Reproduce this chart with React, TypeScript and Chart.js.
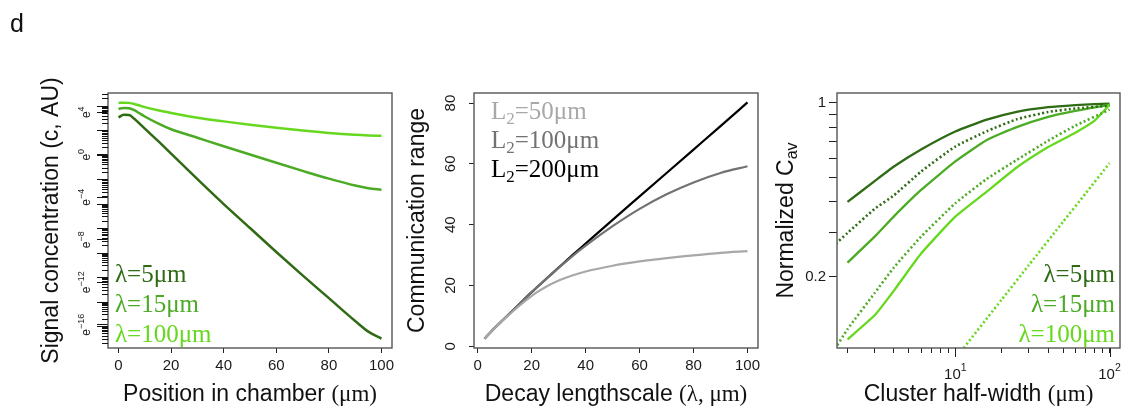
import React, { useEffect, useRef } from 'react';
import { Chart, registerables } from 'chart.js';
Chart.register(...registerables);

const W = 1126;
const H = 412;
const SANS = '"Liberation Sans", Arial, sans-serif';
const SERIF = '"Liberation Serif", "Times New Roman", serif';
const DARK = '#2f6a14';
const MID = '#4cab24';
const BRIGHT = '#66d81e';
const INK = '#1a1a1a';

// ---------- Panel 1: signal concentration (ln c) vs position ----------
const chamberX = [0, 2, 4, 6, 8, 10, 15, 20, 30, 40, 50, 60, 70, 80, 90, 95, 100];
const lnC_lambda5 = [3.51, 3.76, 3.74, 3.38, 2.92, 2.45, 1.3, 0.1, -2.3, -4.65, -6.9, -9.15, -11.35, -13.5, -15.65, -16.65, -17.3];
const lnC_lambda15 = [4.33, 4.4, 4.37, 4.2, 3.9, 3.6, 2.95, 2.4, 1.6, 0.8, 0.02, -0.76, -1.52, -2.25, -2.9, -3.15, -3.3];
const lnC_lambda100 = [4.87, 4.9, 4.88, 4.78, 4.63, 4.48, 4.18, 3.93, 3.48, 3.14, 2.82, 2.53, 2.27, 2.05, 1.88, 1.82, 1.78];
const p1XTicks = [0, 20, 40, 60, 80, 100];
const p1YLabelTicks = [-16, -12, -8, -4, 0, 4];
const p1Legend = ['λ=5μm', 'λ=15μm', 'λ=100μm'];

// ---------- Panel 2: communication range vs decay lengthscale ----------
const lambdaX = [2.5, 5, 10, 15, 20, 25, 30, 35, 40, 50, 60, 70, 80, 90, 100];
const range_L50 = [2.5, 4.9, 9.1, 13.0, 16.6, 19.4, 21.6, 23.3, 24.6, 26.5, 27.9, 29.0, 29.9, 30.7, 31.3];
const range_L100 = [2.5, 4.9, 9.2, 13.5, 17.8, 21.9, 25.8, 29.6, 33.1, 39.5, 45.2, 50.0, 53.9, 57.0, 59.2];
const range_L200 = [2.5, 4.9, 9.2, 13.5, 17.8, 21.9, 25.9, 29.9, 33.8, 41.6, 49.3, 57.0, 64.7, 72.4, 80.2];
const p2XTicks = [0, 20, 40, 60, 80, 100];
const p2YTicks = [0, 20, 40, 60, 80];
const p2LegendValues = ['50', '100', '200'];

// ---------- Panel 3: normalized C_av vs cluster half-width (log-log) ----------
const halfWidthSolid = [2, 3, 4, 6, 10, 16, 25, 40, 60, 80, 100];
const cav_l5_solid = [0.4, 0.485, 0.555, 0.65, 0.768, 0.857, 0.922, 0.962, 0.981, 0.99, 0.995];
const cav_l15_solid = [0.228, 0.29, 0.35, 0.447, 0.582, 0.71, 0.8, 0.88, 0.93, 0.96, 0.985];
const cav_l100_solid = [0.112, 0.14, 0.176, 0.248, 0.349, 0.44, 0.55, 0.665, 0.76, 0.85, 0.985];
const halfWidthDotted = [1.6, 2, 3, 4, 6, 10, 16, 25, 40, 60, 100];
const cav_l5_dotted = [0.264, 0.3, 0.375, 0.425, 0.53, 0.668, 0.77, 0.86, 0.92, 0.95, 0.975];
const cav_l15_dotted = [0.099, 0.123, 0.172, 0.218, 0.29, 0.395, 0.495, 0.59, 0.705, 0.81, 0.94];
const halfWidthDottedL100 = [10, 11.4, 20, 30, 50, 70, 100];
const cav_l100_dotted = [0.094, 0.104, 0.162, 0.223, 0.333, 0.433, 0.573];
const p3XTicks = [2, 3, 4, 5, 6, 7, 8, 9, 10, 20, 30, 40, 50, 60, 70, 80, 90, 100];
const p3XMajor = [10, 100];
const p3YTicks = [0.2, 0.3, 0.4, 0.5, 0.6, 0.7, 0.8, 0.9, 1];
const p3YLabelled = [0.2, 1];

type Seg = { t: string; f: string; dy?: number };
type Box = { l: number; t: number; r: number; b: number };

const sans = (px: number) => `${px}px ${SANS}`;
const serif = (px: number) => `${px}px ${SERIF}`;

function drawRich(
  ctx: CanvasRenderingContext2D,
  segs: Seg[],
  x: number,
  y: number,
  rot: number,
  align: 'left' | 'center' | 'right',
  color: string
) {
  ctx.save();
  ctx.translate(x, y);
  if (rot) ctx.rotate(rot);
  ctx.fillStyle = color;
  ctx.textBaseline = 'alphabetic';
  ctx.textAlign = 'left';
  let w = 0;
  const ws = segs.map((s) => {
    ctx.font = s.f;
    const m = ctx.measureText(s.t).width;
    w += m;
    return m;
  });
  let cx = align === 'left' ? 0 : align === 'center' ? -w / 2 : -w;
  segs.forEach((s, i) => {
    ctx.font = s.f;
    ctx.fillText(s.t, cx, s.dy || 0);
    cx += ws[i];
  });
  ctx.restore();
}

const AX = 40; // fixed scale thickness
function layoutFor(b: Box) {
  return { padding: { left: b.l - AX, top: b.t, right: W - b.r, bottom: H - b.b - AX } };
}
const fitY = (s: any) => {
  s.width = AX;
  s.paddingTop = 0;
  s.paddingBottom = 0;
  s.paddingLeft = 0;
  s.paddingRight = 0;
};
const fitX = (s: any) => {
  s.height = AX;
  s.paddingTop = 0;
  s.paddingBottom = 0;
  s.paddingLeft = 0;
  s.paddingRight = 0;
};
const setTicks = (vals: number[]) => (s: any) => {
  s.ticks = vals.map((v) => ({ value: v }));
};
const tickGrid = (len: number) => ({
  display: true,
  drawOnChartArea: false,
  drawTicks: true,
  tickLength: len,
  color: '#222',
  lineWidth: 1,
});
const tickFont = { family: SANS, size: 15 };

function drawBox(ctx: CanvasRenderingContext2D, a: any) {
  ctx.save();
  ctx.strokeStyle = '#555';
  ctx.lineWidth = 1.4;
  ctx.strokeRect(a.left, a.top, a.right - a.left, a.bottom - a.top);
  ctx.restore();
}

const pts = (xs: number[], ys: number[]) => xs.map((x, i) => ({ x, y: ys[i] }));

const BOX1: Box = { l: 108, t: 93, r: 392, b: 348 };
const BOX2: Box = { l: 474, t: 93, r: 758, b: 348 };
const BOX3: Box = { l: 837, t: 93, r: 1120, b: 348 };
const LEG_BASE = [282, 311.7, 341.5];
const greens = [DARK, MID, BRIGHT];

function config1(): any {
  const line = (ys: number[], color: string) => ({
    data: pts(chamberX, ys),
    borderColor: color,
    borderWidth: 2.5,
    pointRadius: 0,
    fill: false,
    cubicInterpolationMode: 'monotone',
  });
  return {
    type: 'line',
    data: { datasets: [line(lnC_lambda100, BRIGHT), line(lnC_lambda15, MID), line(lnC_lambda5, DARK)] },
    options: {
      animation: false,
      responsive: false,
      devicePixelRatio: 1,
      layout: layoutFor(BOX1),
      plugins: { legend: { display: false }, tooltip: { enabled: false } },
      events: [],
      scales: {
        x: {
          type: 'linear',
          min: -4,
          max: 104,
          afterBuildTicks: setTicks(p1XTicks),
          afterFit: fitX,
          grid: tickGrid(5),
          border: { display: false },
          ticks: { autoSkip: false, maxRotation: 0, minRotation: 0, padding: 4, color: INK, font: tickFont, callback: (v: any) => String(v) },
        },
        y: {
          type: 'linear',
          min: -18.19,
          max: 5.81,
          afterBuildTicks: setTicks(p1YLabelTicks),
          afterFit: fitY,
          grid: { ...tickGrid(11), color: '#111' },
          border: { display: false },
          ticks: { callback: () => '' },
        },
      },
    },
    plugins: [
      {
        id: 'p1deco',
        afterDraw(chart: any) {
          const { ctx, chartArea: a, scales } = chart;
          const ys = scales.y;
          drawBox(ctx, a);
          ctx.save();
          ctx.strokeStyle = '#111';
          ctx.lineWidth = 1;
          for (let k = -9; k <= 3; k++) {
            for (let m = 1; m <= 9; m++) {
              const v = Math.log(m * Math.pow(10, k));
              if (v < ys.min || v > ys.max) continue;
              const py = Math.round(ys.getPixelForValue(v)) + 0.5;
              const len = m === 1 ? 11 : 6;
              ctx.beginPath();
              ctx.moveTo(a.left - len, py);
              ctx.lineTo(a.left, py);
              ctx.stroke();
            }
          }
          ctx.restore();
          p1YLabelTicks.forEach((v) =>
            drawRich(
              ctx,
              [
                { t: 'e', f: sans(12) },
                { t: v < 0 ? '\u2212' + -v : String(v), f: sans(9), dy: -6.5 },
              ],
              a.left - 18,
              ys.getPixelForValue(v),
              -Math.PI / 2,
              'center',
              INK
            )
          );
          drawRich(ctx, [{ t: 'Signal concentration (c, AU)', f: sans(23) }], a.left - 50, (a.top + a.bottom) / 2, -Math.PI / 2, 'center', '#111');
          drawRich(ctx, [{ t: 'Position in chamber ', f: sans(23) }, { t: '(μm)', f: serif(23) }], (a.left + a.right) / 2, 401, 0, 'center', '#111');
          p1Legend.forEach((t, i) => drawRich(ctx, [{ t, f: serif(25) }], a.left + 7, LEG_BASE[i], 0, 'left', greens[i]));
          drawRich(ctx, [{ t: 'd', f: sans(25) }], 10, 32, 0, 'left', '#111');
        },
      },
    ],
  };
}

function config2(): any {
  const grays = ['#a8a8a8', '#727272', '#000000'];
  const line = (ys: number[], color: string) => ({
    data: pts(lambdaX, ys),
    borderColor: color,
    borderWidth: 2.2,
    pointRadius: 0,
    fill: false,
    cubicInterpolationMode: 'monotone',
  });
  return {
    type: 'line',
    data: { datasets: [line(range_L50, grays[0]), line(range_L100, grays[1]), line(range_L200, grays[2])] },
    options: {
      animation: false,
      responsive: false,
      devicePixelRatio: 1,
      layout: layoutFor(BOX2),
      plugins: { legend: { display: false }, tooltip: { enabled: false } },
      events: [],
      scales: {
        x: {
          type: 'linear',
          min: -1.4,
          max: 103.9,
          afterBuildTicks: setTicks(p2XTicks),
          afterFit: fitX,
          grid: tickGrid(5),
          border: { display: false },
          ticks: { autoSkip: false, maxRotation: 0, minRotation: 0, padding: 4, color: INK, font: tickFont, callback: (v: any) => String(v) },
        },
        y: {
          type: 'linear',
          min: -0.56,
          max: 83.3,
          afterBuildTicks: setTicks(p2YTicks),
          afterFit: fitY,
          grid: tickGrid(5),
          border: { display: false },
          ticks: { callback: () => '' },
        },
      },
    },
    plugins: [
      {
        id: 'p2deco',
        afterDraw(chart: any) {
          const { ctx, chartArea: a, scales } = chart;
          drawBox(ctx, a);
          p2YTicks.forEach((v) =>
            drawRich(ctx, [{ t: String(v), f: sans(15) }], a.left - 19, scales.y.getPixelForValue(v), -Math.PI / 2, 'center', INK)
          );
          drawRich(ctx, [{ t: 'Communication range', f: sans(23) }], a.left - 50, (a.top + a.bottom) / 2, -Math.PI / 2, 'center', '#111');
          drawRich(ctx, [{ t: 'Decay lengthscale ', f: sans(23) }, { t: '(λ, μm)', f: serif(23) }], (a.left + a.right) / 2, 401, 0, 'center', '#111');
          const base = [119.3, 148.3, 177.3];
          p2LegendValues.forEach((val, i) =>
            drawRich(
              ctx,
              [
                { t: 'L', f: serif(25) },
                { t: '2', f: serif(17), dy: 5 },
                { t: '=' + val + 'μm', f: serif(25) },
              ],
              a.left + 17,
              base[i],
              0,
              'left',
              grays[i]
            )
          );
        },
      },
    ],
  };
}

function config3(): any {
  const solid = (xs: number[], ys: number[], color: string) => ({
    data: pts(xs, ys),
    borderColor: color,
    borderWidth: 2.3,
    pointRadius: 0,
    fill: false,
    tension: 0.15,
  });
  const dotted = (xs: number[], ys: number[], color: string) => ({
    ...solid(xs, ys, color),
    borderWidth: 2.6,
    borderDash: [2, 2.5],
  });
  return {
    type: 'line',
    data: {
      datasets: [
        dotted(halfWidthDottedL100, cav_l100_dotted, BRIGHT),
        dotted(halfWidthDotted, cav_l15_dotted, MID),
        dotted(halfWidthDotted, cav_l5_dotted, DARK),
        solid(halfWidthSolid, cav_l100_solid, BRIGHT),
        solid(halfWidthSolid, cav_l15_solid, MID),
        solid(halfWidthSolid, cav_l5_solid, DARK),
      ],
    },
    options: {
      animation: false,
      responsive: false,
      devicePixelRatio: 1,
      layout: layoutFor(BOX3),
      plugins: { legend: { display: false }, tooltip: { enabled: false } },
      events: [],
      scales: {
        x: {
          type: 'logarithmic',
          min: 1.71,
          max: 116.9,
          afterBuildTicks: setTicks(p3XTicks),
          afterFit: fitX,
          grid: tickGrid(5),
          border: { display: false },
          ticks: { autoSkip: false, maxRotation: 0, minRotation: 0, callback: () => '' },
        },
        y: {
          type: 'logarithmic',
          min: 0.1034,
          max: 1.097,
          afterBuildTicks: setTicks(p3YTicks),
          afterFit: fitY,
          grid: tickGrid(8),
          border: { display: false },
          ticks: {
            autoSkip: false,
            padding: 3,
            color: INK,
            font: tickFont,
            callback: (v: any) => (p3YLabelled.some((l) => Math.abs(l - v) < 1e-9) ? String(v) : ''),
          },
        },
      },
    },
    plugins: [
      {
        id: 'p3deco',
        afterDraw(chart: any) {
          const { ctx, chartArea: a, scales } = chart;
          drawBox(ctx, a);
          ctx.save();
          ctx.strokeStyle = '#222';
          ctx.lineWidth = 1;
          p3XMajor.forEach((v) => {
            const px = Math.round(scales.x.getPixelForValue(v)) + 0.5;
            ctx.beginPath();
            ctx.moveTo(px, a.bottom);
            ctx.lineTo(px, a.bottom + 9);
            ctx.stroke();
          });
          ctx.restore();
          p3XMajor.forEach((v) =>
            drawRich(
              ctx,
              [
                { t: '10', f: sans(15) },
                { t: String(Math.round(Math.log10(v))), f: sans(10.5), dy: -7.5 },
              ],
              scales.x.getPixelForValue(v),
              378.5,
              0,
              'center',
              INK
            )
          );
          drawRich(
            ctx,
            [
              { t: 'Normalized C', f: sans(23) },
              { t: 'av', f: sans(16), dy: 4 },
            ],
            a.left - 44,
            (a.top + a.bottom) / 2,
            -Math.PI / 2,
            'center',
            '#111'
          );
          drawRich(ctx, [{ t: 'Cluster half-width ', f: sans(23) }, { t: '(μm)', f: serif(23) }], (a.left + a.right) / 2, 401, 0, 'center', '#111');
          p1Legend.forEach((t, i) => drawRich(ctx, [{ t, f: serif(25) }], a.right - 5, LEG_BASE[i], 0, 'right', greens[i]));
        },
      },
    ],
  };
}

export default function App() {
  const r1 = useRef<HTMLCanvasElement>(null);
  const r2 = useRef<HTMLCanvasElement>(null);
  const r3 = useRef<HTMLCanvasElement>(null);
  useEffect(() => {
    const charts = [
      new Chart(r1.current as HTMLCanvasElement, config1()),
      new Chart(r2.current as HTMLCanvasElement, config2()),
      new Chart(r3.current as HTMLCanvasElement, config3()),
    ];
    return () => charts.forEach((c) => c.destroy());
  }, []);
  const cs: React.CSSProperties = { position: 'absolute', left: 0, top: 0, width: W, height: H };
  return (
    <div style={{ position: 'fixed', left: 0, top: 0, width: W, height: H, background: '#fff', overflow: 'hidden' }}>
      <canvas ref={r1} width={W} height={H} style={cs} />
      <canvas ref={r2} width={W} height={H} style={cs} />
      <canvas ref={r3} width={W} height={H} style={cs} />
    </div>
  );
}
